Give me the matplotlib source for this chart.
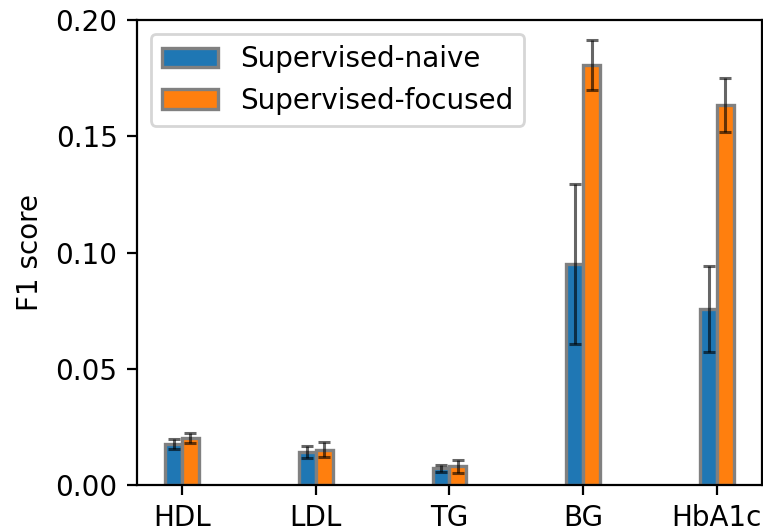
import numpy as np
import matplotlib
matplotlib.use("Agg")
import matplotlib.pyplot as plt

# F1 scores per target
labels = ["HDL", "LDL", "TG", "BG", "HbA1c"]
naive = [0.0176, 0.0142, 0.0072, 0.0950, 0.0755]
naive_err = [0.0021, 0.0027, 0.0015, 0.0345, 0.0185]
focused = [0.0202, 0.0151, 0.0080, 0.1805, 0.1635]
focused_err = [0.0020, 0.0032, 0.0028, 0.0107, 0.0115]

x = np.arange(len(labels))
w = 0.125

fig = plt.figure(figsize=(3.815, 2.66), dpi=200)
ax = fig.add_axes([137 / 763, 47 / 532, 625 / 763, 465 / 532])

err_kw = dict(ecolor=(0, 0, 0, 0.6), elinewidth=1.1, capsize=2.2, capthick=1.1)
ax.bar(x - w / 2, naive, w, yerr=naive_err, color="#1f77b4",
       edgecolor="gray", linewidth=1.2, error_kw=err_kw,
       label="Supervised-naive")
ax.bar(x + w / 2, focused, w, yerr=focused_err, color="#ff7f0e",
       edgecolor="gray", linewidth=1.2, error_kw=err_kw,
       label="Supervised-focused")

ax.set_xticks(x)
ax.set_xticklabels(labels)
ax.set_ylim(0, 0.2)
ax.set_yticks([0, 0.05, 0.10, 0.15, 0.20])
ax.set_ylabel("F1 score")
ax.legend(loc="upper left")

fig.savefig("out.png", dpi=200)
